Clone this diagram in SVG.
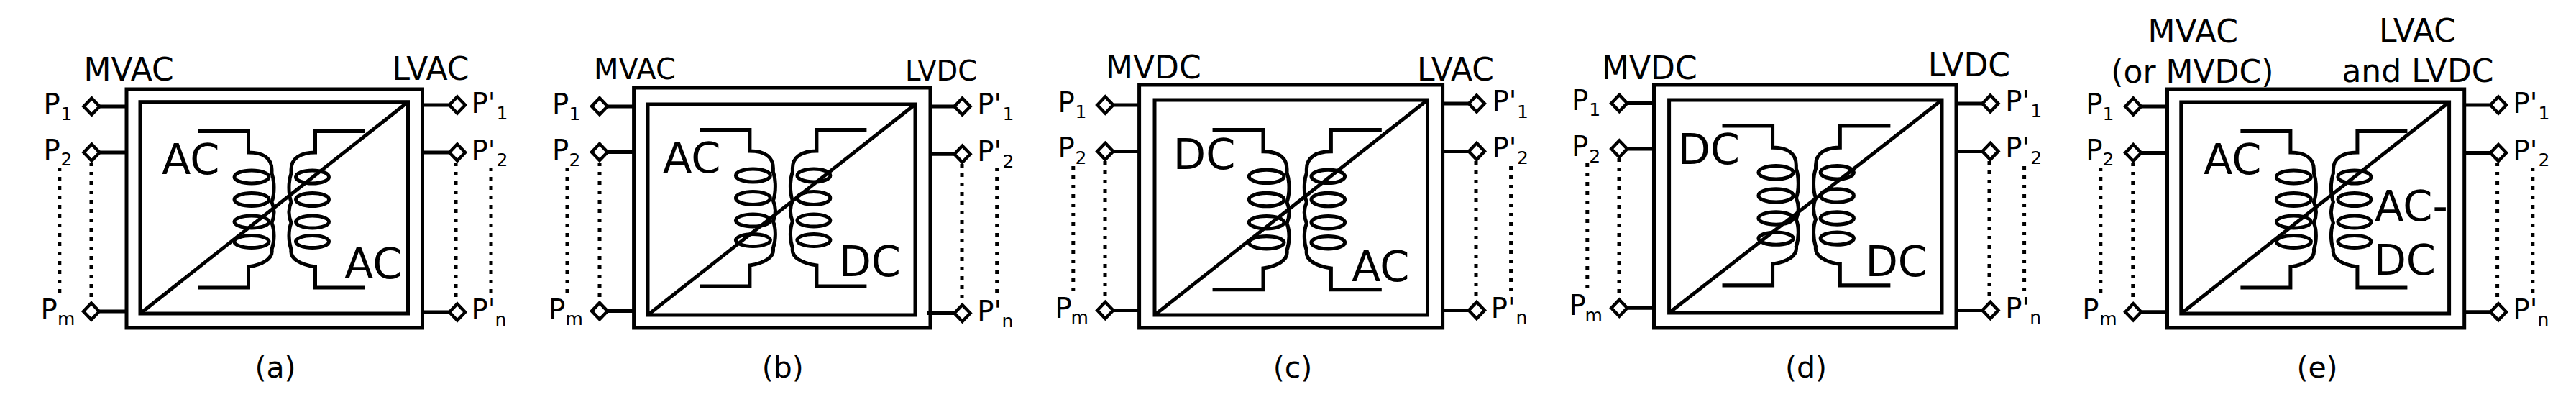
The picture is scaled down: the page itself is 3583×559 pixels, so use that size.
<svg xmlns="http://www.w3.org/2000/svg" width="3583" height="559" viewBox="0 0 3583 559">
<style>
text{font-family:"DejaVu Sans",sans-serif;font-size:38.5px;fill:#000}
.s{font-size:25px}
.h{font-size:44px}
.h2{font-size:40px}
.b{font-size:59px}
.c{font-size:41px;text-anchor:middle}
.box{fill:none;stroke:#000;stroke-width:5}
.w{fill:none;stroke:#000;stroke-width:5}
.st{fill:none;stroke:#000;stroke-width:5}
.dot{fill:none;stroke:#000;stroke-width:5;stroke-dasharray:5 8}
.d{fill:#fff;stroke:#000;stroke-width:4.5}
</style>
<defs>
<polygon id="dm" class="d" points="0,-11.500 11,0 0,11.500 -11,0"/>
<g id="tr">
<path class="w" d="M276,182.500H345.500V212C366,212 378,220 378,236L378,241C382,252 382,270 378,281C382,290 382,300 378,310C382,320 382,335 378,347C380,360 365,368 345.500,371V400H276"/>
<path class="w" d="M508,182.500H438.500V212C418,212 405,220 405,236L405,241C401,252 401,270 405,281C401,290 401,300 405,310C401,320 401,335 405,347C403,360 418,368 438.500,371V400H508"/>
<ellipse class="w" cx="350" cy="246" rx="24" ry="9"/><ellipse class="w" cx="350" cy="277.500" rx="24" ry="9"/><ellipse class="w" cx="350" cy="308.500" rx="24" ry="8.500"/><ellipse class="w" cx="350" cy="336" rx="24" ry="8.500"/>
<ellipse class="w" cx="434.500" cy="246" rx="23" ry="9"/><ellipse class="w" cx="434.500" cy="277.500" rx="23" ry="9"/><ellipse class="w" cx="434.500" cy="308.500" rx="23" ry="8.500"/><ellipse class="w" cx="434.500" cy="336" rx="23" ry="8.500"/>
</g>
</defs>
<g id="connectors">
<path class="st" d="M139,148H175M139,212H175M139,433H175M587,146H624M587,212H624M587,434H624"/>
<path class="dot" d="M127,226V419M82.800,233V409M634,226V419M683,233V409"/>
<path class="st" d="M846,148H882M846,211.500H882M846,432.600H882M1294,148H1327M1294,214.300H1327M1289,435.500H1327"/>
<path class="dot" d="M834,226V415M789,233V409M1338,228V420M1386.700,233V412"/>
<path class="st" d="M1549,146H1585M1549,210.400H1585M1549,431.500H1585M2007,144H2042M2007,210.400H2042M2007,431.500H2042"/>
<path class="dot" d="M1537,224V413M1492.800,231V408M2053,224V415M2101.600,231V410"/>
<path class="st" d="M2264,143.400H2300M2264,207H2300M2264,428.300H2300M2721,144H2757M2721,210.400H2757M2721,431.500H2757"/>
<path class="dot" d="M2252,220V408M2207.800,227V403M2767,224V413M2815.600,231V410"/>
<path class="st" d="M2979,148H3015M2979,212.500H3015M2979,433.700H3015M3428,146H3463M3428,212.500H3463M3428,433.700H3463"/>
<path class="dot" d="M2966.800,226V415M2921.800,233V409M3473.600,226V415M3522.800,233V409"/>
</g>
<g id="converter-a">
<rect class="box" x="176" y="124" width="411.500" height="332"/>
<rect class="box" x="195" y="141.700" width="372.500" height="294.300"/>
<path class="box" d="M195,436L567.500,141.700"/>
<use href="#tr"/>
<text class="b" x="225" y="242">AC</text><text class="b" x="479" y="387">AC</text>
<text class="h" x="116.500" y="111.700">MVAC</text><text class="h" x="545.500" y="111">LVAC</text>
<text class="c" x="383" y="525">(a)</text>
</g>
<g id="a-P1"><use href="#dm" x="127.500" y="148"/><text x="60.500" y="157.500">P<tspan class="s" x="84.500" y="166.500">1</tspan></text></g>
<g id="a-P2"><use href="#dm" x="127.500" y="212"/><text x="60.500" y="221.500">P<tspan class="s" x="84.500" y="230">2</tspan></text></g>
<g id="a-Pm"><use href="#dm" x="127" y="433"/><text x="56.500" y="444">P<tspan class="s" x="80" y="452">m</tspan></text></g>
<g id="a-Q1"><use href="#dm" x="636" y="146"/><text x="655.500" y="157">P'<tspan class="s" x="690.500" y="166">1</tspan></text></g>
<g id="a-Q2"><use href="#dm" x="636" y="212"/><text x="655.500" y="223">P'<tspan class="s" x="690.500" y="231">2</tspan></text></g>
<g id="a-Qn"><use href="#dm" x="636" y="434"/><text x="655.500" y="444">P'<tspan class="s" x="688.500" y="453">n</tspan></text></g>
<g id="converter-b">
<rect class="box" x="881.600" y="122" width="412.400" height="334"/>
<rect class="box" x="901" y="145" width="372" height="293"/>
<path class="box" d="M901,438L1273,145"/>
<use href="#tr" transform="translate(697.400,-2)"/>
<text class="b" x="922" y="239.500">AC</text><text class="b" x="1166.400" y="383.500">DC</text>
<text class="h2" x="826" y="110">MVAC</text><text class="h2" style="font-size:38.500px" x="1259" y="112">LVDC</text>
<text class="c" x="1088.700" y="525">(b)</text>
</g>
<g id="b-P1"><use href="#dm" x="834" y="147.700"/><text x="767.900" y="158">P<tspan class="s" x="791.500" y="167">1</tspan></text></g>
<g id="b-P2"><use href="#dm" x="834" y="211.500"/><text x="767.900" y="221.500">P<tspan class="s" x="791.500" y="231">2</tspan></text></g>
<g id="b-Pm"><use href="#dm" x="834" y="432.600"/><text x="762.900" y="444">P<tspan class="s" x="786.500" y="452">m</tspan></text></g>
<g id="b-Q1"><use href="#dm" x="1338.500" y="148"/><text x="1359.300" y="158">P'<tspan class="s" x="1394.500" y="167">1</tspan></text></g>
<g id="b-Q2"><use href="#dm" x="1338.500" y="214.300"/><text x="1359.300" y="224">P'<tspan class="s" x="1394.500" y="233">2</tspan></text></g>
<g id="b-Qn"><use href="#dm" x="1338.500" y="435.500"/><text x="1359.300" y="446">P'<tspan class="s" x="1393.500" y="454.500">n</tspan></text></g>
<g id="converter-c">
<rect class="box" x="1584.600" y="118" width="422" height="338"/>
<rect class="box" x="1606" y="139" width="379.500" height="299"/>
<path class="box" d="M1606,438L1985.500,139"/>
<use href="#tr" transform="translate(1406.700,-5.800) scale(1.014,1.021)"/>
<text class="b" x="1631.800" y="234.800">DC</text><text class="b" x="1880" y="391.400">AC</text>
<text class="h" x="1538" y="109">MVDC</text><text class="h" x="1971" y="112">LVAC</text>
<text class="c" x="1798" y="525">(c)</text>
</g>
<g id="c-P1"><use href="#dm" x="1537.300" y="146"/><text x="1471.500" y="156">P<tspan class="s" x="1495.500" y="164">1</tspan></text></g>
<g id="c-P2"><use href="#dm" x="1537.300" y="210.400"/><text x="1471.500" y="219">P<tspan class="s" x="1495.500" y="228">2</tspan></text></g>
<g id="c-Pm"><use href="#dm" x="1537.300" y="431.500"/><text x="1467.500" y="441.500">P<tspan class="s" x="1489.500" y="450">m</tspan></text></g>
<g id="c-Q1"><use href="#dm" x="2053.900" y="144"/><text x="2075.500" y="154">P'<tspan class="s" x="2110.100" y="163.500">1</tspan></text></g>
<g id="c-Q2"><use href="#dm" x="2053.900" y="210.400"/><text x="2075.500" y="219">P'<tspan class="s" x="2110.100" y="228">2</tspan></text></g>
<g id="c-Qn"><use href="#dm" x="2053.900" y="431.500"/><text x="2073.800" y="441.500">P'<tspan class="s" x="2108.500" y="450">n</tspan></text></g>
<g id="converter-d">
<rect class="box" x="2300.500" y="118" width="420.500" height="338"/>
<rect class="box" x="2321.600" y="139" width="379.400" height="296"/>
<path class="box" d="M2321.600,435L2701,139"/>
<use href="#tr" transform="translate(2117.300,-11.100) scale(1.008,1.020)"/>
<text class="b" x="2333.400" y="228">DC</text><text class="b" x="2594.400" y="384">DC</text>
<text class="h" x="2228" y="110.400">MVDC</text><text class="h" x="2681.700" y="105.700">LVDC</text>
<text class="c" x="2512" y="525">(d)</text>
</g>
<g id="d-P1"><use href="#dm" x="2252.300" y="143.400"/><text x="2185.900" y="152.700">P<tspan class="s" x="2210.300" y="161">1</tspan></text></g>
<g id="d-P2"><use href="#dm" x="2252.300" y="207"/><text x="2185.900" y="216.800">P<tspan class="s" x="2210.300" y="225.800">2</tspan></text></g>
<g id="d-Pm"><use href="#dm" x="2252.300" y="428.300"/><text x="2182.500" y="438">P<tspan class="s" x="2204.500" y="446.600">m</tspan></text></g>
<g id="d-Q1"><use href="#dm" x="2768.400" y="144"/><text x="2789.200" y="154">P'<tspan class="s" x="2824.200" y="163.400">1</tspan></text></g>
<g id="d-Q2"><use href="#dm" x="2768.400" y="210.400"/><text x="2789.200" y="219.400">P'<tspan class="s" x="2824.200" y="228.300">2</tspan></text></g>
<g id="d-Qn"><use href="#dm" x="2768.400" y="431.500"/><text x="2789.200" y="441.600">P'<tspan class="s" x="2823.300" y="450">n</tspan></text></g>
<g id="converter-e">
<rect class="box" x="3014.500" y="124" width="413.200" height="332"/>
<rect class="box" x="3033.800" y="142" width="372.800" height="294"/>
<path class="box" d="M3033.800,436L3406.600,142"/>
<use href="#tr" transform="translate(2840.400,0)"/>
<text class="b" x="3065" y="242">AC</text><text class="b" x="3303" y="306.500">AC-</text><text class="b" x="3301.400" y="381.700">DC</text>
<text class="h" x="2987.600" y="59">MVAC</text><text class="h" x="2936.300" y="114.700">(or MVDC)</text>
<text class="h" x="3309" y="58">LVAC</text><text class="h" x="3257.400" y="114">and LVDC</text>
<text class="c" x="3223" y="525">(e)</text>
</g>
<g id="e-P1"><use href="#dm" x="2967.200" y="148"/><text x="2901.300" y="158">P<tspan class="s" x="2924.500" y="167">1</tspan></text></g>
<g id="e-P2"><use href="#dm" x="2967.200" y="212.500"/><text x="2901.300" y="222">P<tspan class="s" x="2924.500" y="230">2</tspan></text></g>
<g id="e-Pm"><use href="#dm" x="2967.200" y="433.700"/><text x="2896.200" y="444">P<tspan class="s" x="2920.200" y="452">m</tspan></text></g>
<g id="e-Q1"><use href="#dm" x="3475" y="146"/><text x="3495.500" y="157">P'<tspan class="s" x="3530.500" y="166">1</tspan></text></g>
<g id="e-Q2"><use href="#dm" x="3475" y="212.500"/><text x="3495.500" y="223">P'<tspan class="s" x="3530.500" y="231">2</tspan></text></g>
<g id="e-Qn"><use href="#dm" x="3475" y="433.700"/><text x="3495.500" y="444">P'<tspan class="s" x="3529.500" y="453">n</tspan></text></g>
</svg>
